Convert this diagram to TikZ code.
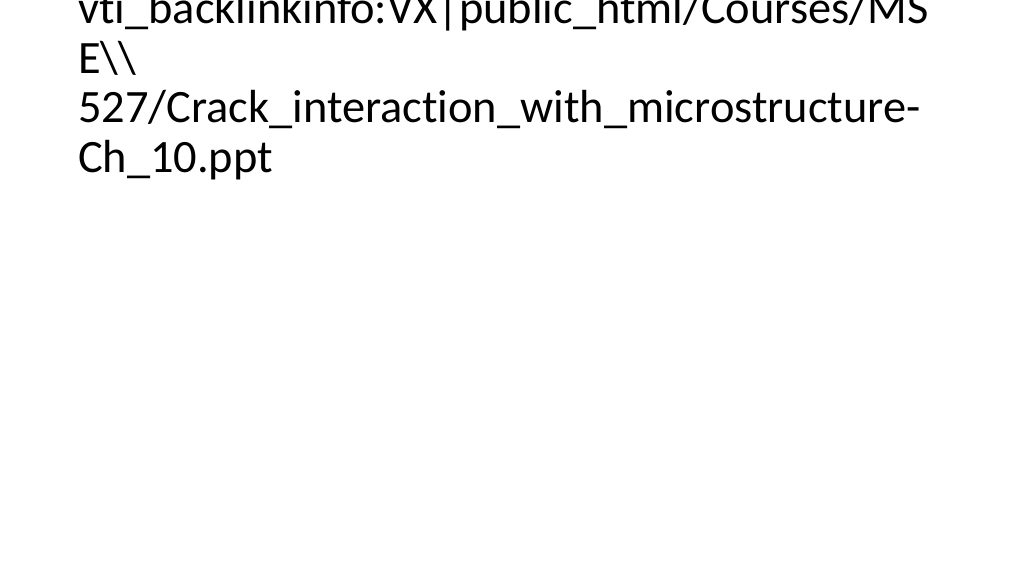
\documentclass[tikz,border=0pt]{standalone}
\usepackage{fontspec}
\setmainfont{Carlito}[Ligatures={NoCommon,NoRare,NoContextual}]
\begin{document}
\begin{tikzpicture}[x=1pt,y=-1pt,
  line/.style={anchor=base west,inner sep=0pt,outer sep=0pt,text=black,
    font=\fontsize{46.4}{49.5}\selectfont}]
\useasboundingbox (0,0) rectangle (1024,576);
\fill[white] (0,0) rectangle (1024,576);
\clip (0,0) rectangle (1024,576);
\node[line] (l1) at (78,23.5) {vti\_backlinkinfo:VX|public\_html/Courses/MS};
\node[line] (l2) at (78,73) {E\textbackslash\textbackslash};
\node[line] (l3) at (78,122.5) {527/Crack\_interaction\_with\_microstructure-};
\node[line] (l4) at (78,172) {Ch\_10.ppt};
\end{tikzpicture}
\end{document}
